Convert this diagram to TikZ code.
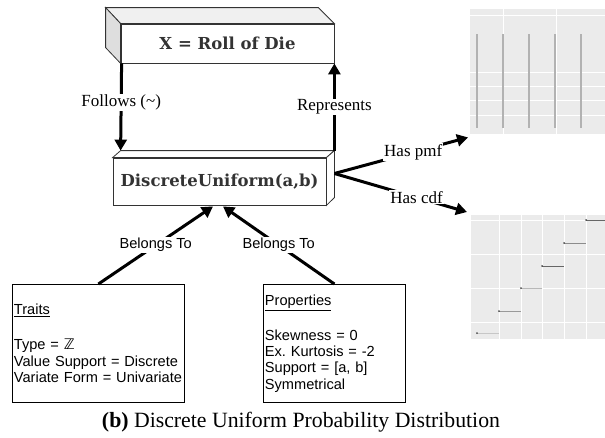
\documentclass[tikz,border=0pt]{standalone}
\usepackage{fontspec}
\setmainfont{Liberation Serif}
\newfontfamily\slab{DejaVu Serif}
\newfontfamily\hel{Liberation Sans}
\newfontfamily\dvs{DejaVu Sans}
\usetikzlibrary{arrows.meta,calc}
\definecolor{txt}{HTML}{333333}
\definecolor{edge}{HTML}{333333}
\definecolor{topf}{HTML}{F0F0F0}
\definecolor{sidef}{HTML}{DEDEDE}
\definecolor{panel}{HTML}{EBEBEB}
\begin{document}
\begin{tikzpicture}[x=1pt,y=-1pt,
  face/.style={draw=edge, line width=0.8pt},
  cube/.style={draw=edge, fill=white, line width=0.8pt, inner sep=0pt,
    minimum width=213pt, font=\slab\bfseries\fontsize{16.5}{18}\selectfont, text=txt},
  arr/.style={line width=3pt, -{Triangle[length=11pt,width=12pt]}},
  lbl/.style={fill=white, inner sep=1pt, font=\fontsize{17}{18}\selectfont},
  sanslbl/.style={fill=white, inner sep=1pt, font=\hel\fontsize{14.6}{16}\selectfont},
  infobox/.style={draw=black, line width=0.8pt, anchor=north west, align=left,
    inner xsep=1.5pt, minimum height=118pt, font=\hel\fontsize{14.6}{16.3}\selectfont},
  grid/.style={white, line width=0.7pt}
]
\useasboundingbox (0,0) rectangle (605,437);

% top cube
\node[cube, minimum height=39pt] (x) at (227.5,43.5) {\raisebox{-6pt}{X = Roll of Die}};
\draw[face, fill=topf] (x.north west) -- ++(-15,-16) -- ($(x.north east)+(-16,-16)$) -- (x.north east) -- cycle;
\draw[face, fill=sidef] (x.north west) -- ++(-15,-16) -- ++(0,40) -- (x.south west) -- cycle;

% bottom cube
\node[cube, minimum height=47pt] (du) at (219.5,181.5) {DiscreteUniform(a,b)};
\draw[face, fill=white] (du.north west) -- ++(8,-7) -- ($(du.north east)+(8,-7)$) -- (du.north east) -- cycle;
\draw[face, fill=white] (du.north east) -- ++(8,-7) -- ++(0,47) -- (du.south east) -- cycle;

\coordinate (fs) at ($(x.south west)+(1,0)$);
\coordinate (dutl) at ($(du.north west)+(8,-7)$);
\coordinate (dutr) at ($(du.north east)+(8,-7)$);
\coordinate (dur) at ($(du.east)+(8,-8)$);

\draw[arr] (fs) -- node[lbl, pos=0.45] {Follows (\textasciitilde)} (dutl);
\draw[arr] (dutr) -- node[lbl] {Represents} (x.south east);

% plots
\node[fill=panel, inner sep=0pt, minimum width=135pt, minimum height=125pt, anchor=north west] (pmf) at (470,9) {};
\foreach \yy in {15,72,86,100,115} \draw[grid] (470,\yy) -- (605,\yy);
\foreach \xx in {503,556} \draw[grid] (\xx,9) -- (\xx,134);
\foreach \xx in {477,503,529,555,581} \draw[line width=1.3pt, draw=black!30] (\xx,34) -- (\xx,128);

\node[fill=panel, inner sep=0pt, minimum width=134pt, minimum height=124pt, anchor=north west] (cdf) at (471,215) {};
\foreach \yy in {220,254,288,322} \draw[grid] (471,\yy) -- (605,\yy);
\foreach \xx in {499,521,542,564,586} \draw[grid] (\xx,215) -- (\xx,339);
\foreach \xa/\xb/\yy/\cc in {477/499/333/black!22, 499/521/311/black!40, 521/542/288/black!28, 542/564/266/black!60, 564/586/243/black!45, 586/605/220/black!60} {
  \draw[line width=1pt, draw=\cc] (\xa,\yy) -- (\xb,\yy);
  \fill[black!70] (\xa,\yy) circle (1pt);
}

\coordinate (pmft) at ($(pmf.south west)+(-2,3)$);
\coordinate (cdft) at ($(cdf.north west)+(-4,-3)$);
\draw[arr] (dur) -- node[lbl, pos=0.59] {Has pmf} (pmft);
\draw[arr] (dur) -- node[lbl, pos=0.62] {Has cdf} (cdft);

% info boxes
\node[infobox, text width=169pt] (traits) at (12,284) {\underline{Traits}\\[19pt]Type = {\dvs ℤ}\\Value Support = Discrete\\Variate Form = Univariate};
\node[infobox, text width=139pt] (props) at (263,284) {\underline{Properties}\\[18.5pt]Skewness = 0\\Ex.\ Kurtosis = -2\\Support = [a, b]\\Symmetrical};

\coordinate (bt1) at ($(du.south)+(-6.5,1)$);
\coordinate (bt2) at ($(du.south)+(3.5,1)$);
\draw[arr] (traits.north) -- node[sanslbl] {Belongs To} (bt1);
\draw[arr] (props.north) -- node[sanslbl] {Belongs To} (bt2);

% caption
\node[inner sep=0pt] (cap) at (301,422) {\resizebox{398pt}{!}{\fontsize{20}{22}\selectfont\textbf{(b)} Discrete Uniform Probability Distribution}};
\end{tikzpicture}
\end{document}
